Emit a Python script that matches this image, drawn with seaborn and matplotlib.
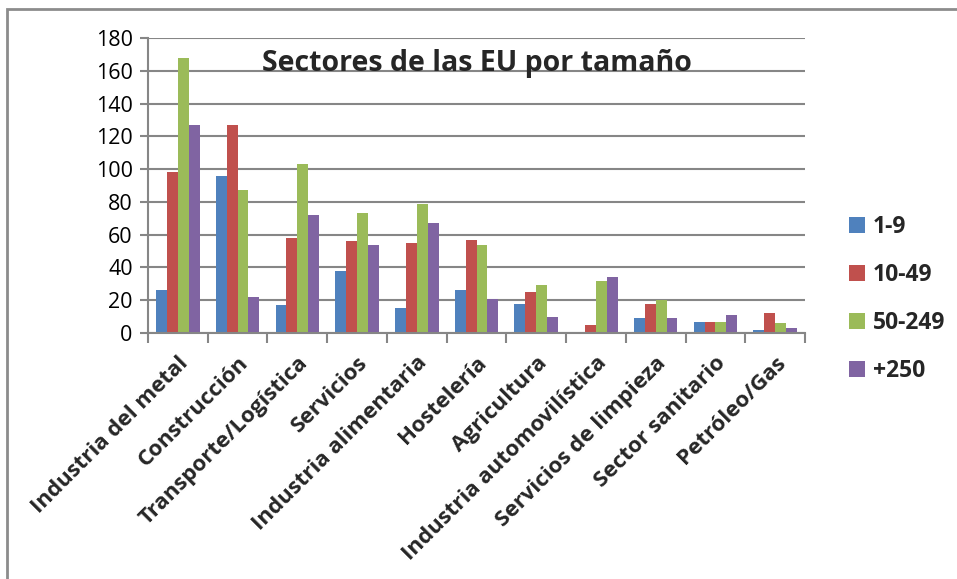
import matplotlib
matplotlib.use("Agg")
import matplotlib.pyplot as plt
import seaborn as sns
import pandas as pd
from matplotlib.patches import Rectangle

sectores = ["Industria del metal", "Construcción", "Transporte/Logística", "Servicios",
            "Industria alimentaria", "Hostelería", "Agricultura", "Industria automovilística",
            "Servicios de limpieza", "Sector sanitario", "Petróleo/Gas"]
tamanos = ["1-9", "10-49", "50-249", "+250"]
v_1_9 = [26, 96, 17, 38, 15, 26, 18, 0, 9, 7, 2]
v_10_49 = [98, 127, 58, 56, 55, 57, 25, 5, 18, 7, 12]
v_50_249 = [168, 87, 103, 73, 79, 54, 29, 32, 20, 7, 6]
v_250 = [127, 22, 72, 54, 67, 21, 10, 34, 9, 11, 3]
colores = ["#4F81BD", "#C0504D", "#9BBB59", "#8064A2"]

rows = []
for t, vals in zip(tamanos, [v_1_9, v_10_49, v_50_249, v_250]):
    for s, v in zip(sectores, vals):
        rows.append({"Sector": s, "Tamaño": t, "Valor": v})
df = pd.DataFrame(rows)

sns.set_theme(style="white")
plt.rcParams["font.family"] = ["Open Sans", "DejaVu Sans"]

fig = plt.figure(figsize=(9.57, 5.79), dpi=100)
ax = fig.add_axes([148/957, 1-333/579, (805-148)/957, (333-38)/579])
sns.barplot(data=df, x="Sector", y="Valor", hue="Tamaño", order=sectores,
            hue_order=tamanos, palette=colores, width=0.73, saturation=1,
            ax=ax, edgecolor="none", linewidth=0)

ax.set_ylim(0, 180)
ax.set_xlim(-0.5, len(sectores) - 0.5)
ax.set_yticks(range(0, 181, 20))
ax.yaxis.grid(True, color="#868686", linewidth=1.5)
ax.set_axisbelow(True)
ax.set_xlabel("")
ax.set_ylabel("")
for side in ["top", "right"]:
    ax.spines[side].set_visible(False)
for side in ["left", "bottom"]:
    ax.spines[side].set_color("#868686")
    ax.spines[side].set_linewidth(1.5)

ax.tick_params(axis="y", which="major", left=True, length=6, width=1.5, color="#868686",
               labelsize=15.5, labelcolor="black", pad=5)
ax.set_xticks([i + 0.5 for i in range(-1, len(sectores))], minor=False)
ax.set_xticklabels([])
ax.set_xticks(range(len(sectores)), minor=True)
ax.set_xticklabels(sectores, minor=True, rotation=45, ha="right", rotation_mode="anchor",
                   fontsize=16, fontweight="bold")
ax.tick_params(axis="x", which="major", bottom=True, length=7, width=1.5, color="#868686")
ax.tick_params(axis="x", which="minor", bottom=False, length=0, pad=14)

ax.text(0.5, 0.915, "Sectores de las EU por tamaño", transform=ax.transAxes,
        ha="center", va="center", fontsize=20.5, fontweight="bold")

leg = ax.legend(loc="center left", bbox_to_anchor=(1.035, 0.115), frameon=False,
                prop={"size": 16.5, "weight": "bold"}, handlelength=0.7, handleheight=0.7,
                labelspacing=1.05, handletextpad=0.35)

fig.patches.append(Rectangle((7/957, -0.1), 1.2, 1 - 9/579 + 0.1, transform=fig.transFigure,
                             fill=False, edgecolor="#8C8C8C", linewidth=2, zorder=0))

fig.savefig("out.png", dpi=100)
